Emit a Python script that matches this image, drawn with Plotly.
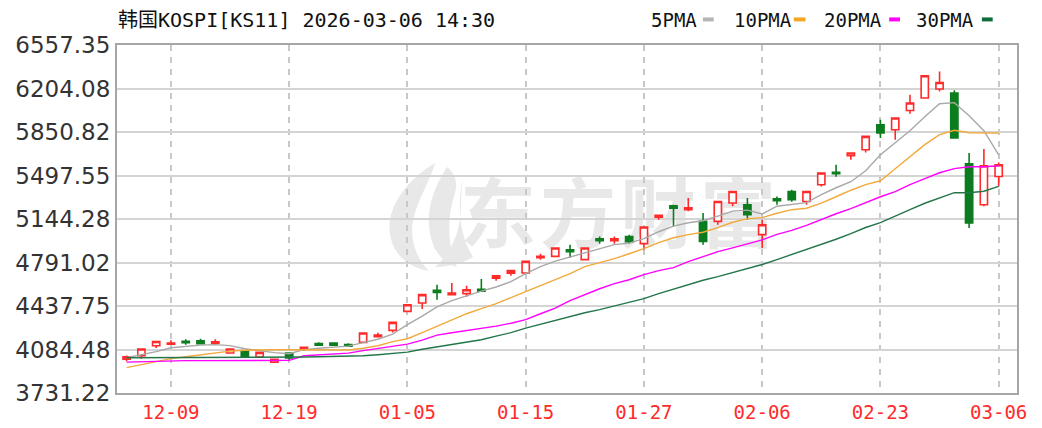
import base64
import plotly.graph_objects as go

# ---------------- data ----------------
dates = [
    "2025-12-04", "2025-12-05", "2025-12-08", "2025-12-09", "2025-12-10", "2025-12-11", "2025-12-12",
    "2025-12-15", "2025-12-16", "2025-12-17", "2025-12-18", "2025-12-19", "2025-12-22", "2025-12-23",
    "2025-12-24", "2025-12-26", "2025-12-29", "2025-12-30", "2026-01-02", "2026-01-05", "2026-01-06",
    "2026-01-07", "2026-01-08", "2026-01-09", "2026-01-12", "2026-01-13", "2026-01-14", "2026-01-15",
    "2026-01-16", "2026-01-19", "2026-01-20", "2026-01-21", "2026-01-22", "2026-01-23", "2026-01-26",
    "2026-01-27", "2026-01-28", "2026-01-29", "2026-01-30", "2026-02-02", "2026-02-03", "2026-02-04",
    "2026-02-05", "2026-02-06", "2026-02-09", "2026-02-10", "2026-02-11", "2026-02-12", "2026-02-13",
    "2026-02-19", "2026-02-20", "2026-02-23", "2026-02-24", "2026-02-25", "2026-02-26", "2026-02-27",
    "2026-03-03", "2026-03-04", "2026-03-05", "2026-03-06",
]

opens = [4005, 4034, 4115, 4128, 4152, 4156, 4136, 4056, 4069, 4024,
         3982, 4056, 4091, 4132, 4136, 4124, 4142, 4189, 4240, 4394,
         4462, 4565, 4530, 4538, 4574, 4664, 4704, 4706, 4830, 4841,
         4895, 4814, 4984, 4968, 5001, 4944, 5159, 5252, 5220, 5125,
         5125, 5274, 5260, 5017, 5309, 5368, 5287, 5423, 5524, 5658,
         5707, 5910, 5869, 6026, 6127, 6200, 6167, 5593, 5260, 5490]
highs = [4035, 4092, 4152, 4160, 4168, 4172, 4168, 4092, 4072, 4063,
         4008, 4058, 4105, 4144, 4140, 4136, 4222, 4221, 4308, 4451,
         4533, 4611, 4625, 4603, 4657, 4686, 4727, 4803, 4863, 4912,
         4936, 4912, 5003, 5003, 5017, 5082, 5177, 5260, 5315, 5193,
         5290, 5371, 5315, 5139, 5328, 5382, 5371, 5521, 5585, 5682,
         5818, 5951, 5967, 6154, 6311, 6343, 6189, 5680, 5713, 5604]
lows = [3990, 4010, 4096, 4126, 4124, 4130, 4134, 4050, 4020, 4020,
        3978, 4002, 4075, 4118, 4117, 4110, 4138, 4187, 4223, 4390,
        4413, 4489, 4528, 4513, 4555, 4643, 4684, 4700, 4814, 4836,
        4828, 4810, 4944, 4944, 4944, 4895, 5139, 5084, 5208, 4936,
        5098, 5247, 5139, 4909, 5260, 5285, 5260, 5409, 5488, 5626,
        5685, 5802, 5788, 5999, 6122, 6180, 5798, 5071, 5247, 5409]
closes = [4025, 4089, 4150, 4137, 4140, 4132, 4148, 4089, 4024, 4061,
          4005, 4016, 4103, 4120, 4120, 4112, 4219, 4201, 4305, 4448,
          4530, 4548, 4542, 4570, 4558, 4684, 4725, 4800, 4842, 4909,
          4879, 4909, 4968, 4984, 4960, 5079, 5175, 5232, 5236, 4962,
          5287, 5368, 5179, 5098, 5293, 5301, 5368, 5518, 5512, 5680,
          5815, 5843, 5964, 6086, 6308, 6253, 5802, 5112, 5577, 5585]

ma5 = [4018, 4042, 4067, 4099, 4112, 4120, 4124, 4116, 4091, 4075,
       4059, 4050, 4083, 4095, 4103, 4112, 4140, 4168, 4209, 4286,
       4355, 4430, 4481, 4522, 4558, 4592, 4635, 4700, 4757, 4802,
       4834, 4867, 4903, 4936, 4948, 4985, 5041, 5086, 5114, 5130,
       5168, 5208, 5216, 5185, 5248, 5262, 5277, 5342, 5398, 5447,
       5536, 5666, 5764, 5861, 5975, 6080, 6089, 5983, 5861, 5666]
ma10 = [3937, 3961, 3986, 4010, 4026, 4042, 4059, 4071, 4079, 4083,
        4083, 4083, 4083, 4083, 4083, 4080, 4095, 4115, 4148, 4172,
        4221, 4274, 4327, 4375, 4416, 4457, 4505, 4554, 4603, 4655,
        4700, 4757, 4789, 4822, 4862, 4903, 4952, 4992, 5017, 5037,
        5074, 5118, 5147, 5155, 5191, 5220, 5232, 5273, 5325, 5378,
        5423, 5455, 5553, 5650, 5748, 5829, 5865, 5845, 5843, 5843]
ma20 = [3982, 3986, 3990, 3992, 3994, 3994, 3994, 3994, 3994, 3994,
        3994, 3996, 4034, 4042, 4046, 4055, 4075, 4091, 4107, 4128,
        4160, 4201, 4221, 4237, 4254, 4274, 4298, 4327, 4375, 4420,
        4481, 4530, 4578, 4619, 4651, 4692, 4725, 4749, 4798, 4838,
        4879, 4910, 4940, 4975, 5020, 5052, 5093, 5143, 5187, 5228,
        5277, 5325, 5366, 5423, 5472, 5520, 5553, 5569, 5569, 5577]
ma30 = [4018, 4018, 4020, 4020, 4021, 4021, 4023, 4023, 4023, 4023,
        4023, 4023, 4023, 4025, 4026, 4028, 4034, 4042, 4050, 4063,
        4087, 4107, 4124, 4144, 4164, 4193, 4221, 4258, 4290, 4323,
        4351, 4383, 4408, 4436, 4465, 4497, 4538, 4574, 4615, 4647,
        4676, 4708, 4737, 4775, 4815, 4855, 4895, 4938, 4980, 5025,
        5075, 5115, 5165, 5220, 5272, 5318, 5358, 5358, 5370, 5409]

y_ticks = [3731.22, 4084.48, 4437.75, 4791.02, 5144.28, 5497.55, 5850.82, 6204.08, 6557.35]
tick_dates = ["2025-12-09", "2025-12-19", "2026-01-05", "2026-01-15", "2026-01-27",
              "2026-02-06", "2026-02-23", "2026-03-06"]

ma_names = ["5PMA", "10PMA", "20PMA", "30PMA"]
ma_colors = ["#a8a8a8", "#f2a93b", "#ff00ff", "#23764a"]
legend_colors = ["#b4b4b4", "#f5a623", "#ff00ff", "#0f6b3a"]

title_text = "韩国KOSPI[KS11] 2026-03-06 14:30"

# ---------------- figure ----------------
xs = list(range(len(dates)))
tick_pos = [dates.index(d) for d in tick_dates]
tick_text = [d[5:] for d in tick_dates]

fig = go.Figure()

for series, color, name in zip([ma5, ma10, ma20, ma30], ma_colors, ma_names):
    fig.add_trace(go.Scatter(x=xs, y=series, mode="lines", name=name,
                             line=dict(color=color, width=1.4), hoverinfo="skip"))

fig.add_trace(go.Candlestick(
    x=xs, open=opens, high=highs, low=lows, close=closes, text=dates, name="KOSPI",
    increasing=dict(line=dict(color="#ff2a2a", width=1.6), fillcolor="#ffffff"),
    decreasing=dict(line=dict(color="#0b7d1f", width=1.6), fillcolor="#0b7d1f"),
    whiskerwidth=0,
))

# watermark (drawn below traces)
svg = (
    '<svg xmlns="http://www.w3.org/2000/svg" width="900" height="348" viewBox="0 0 900 348">'
    '<g fill="#e8e8e8">'
    '<path d="M318 118 C282 140 262 175 278 204 C286 218 300 224 312 226 '
    'C296 210 290 186 300 162 C306 146 314 132 318 118 Z"/>'
    '<path d="M330 122 C312 150 306 178 318 204 C324 214 332 220 340 222 '
    'C330 200 330 172 338 148 C341 138 338 128 330 122 Z"/>'
    '<path d="M346 132 C340 160 342 190 356 212 C346 218 332 222 318 222 '
    'C336 206 344 184 344 160 C344 150 345 140 346 132 Z"/>'
    '</g>'
    '<text x="343" y="197" font-family="Noto Sans CJK SC" font-weight="bold" '
    'font-size="76" fill="#e8e8e8" letter-spacing="4">东方财富</text>'
    '</svg>'
)
fig.add_layout_image(dict(
    source="data:image/svg+xml;base64," + base64.b64encode(svg.encode("utf-8")).decode(),
    xref="paper", yref="paper", x=0, y=1, sizex=1, sizey=1,
    xanchor="left", yanchor="top", sizing="stretch", layer="below",
))

mono = "DejaVu Sans Mono, Noto Sans CJK SC, monospace"

annotations = [dict(
    text=title_text, xref="paper", yref="paper", x=-0.001, y=1.072,
    xanchor="left", yanchor="middle", showarrow=False,
    font=dict(family=mono, size=20, color="#111111"),
)]
shapes = []
legend_text_x = [0.591, 0.683, 0.783, 0.885]
legend_dash_x = [(0.651, 0.663), (0.752, 0.765), (0.858, 0.870), (0.961, 0.973)]
for name, col, tx, (d0, d1) in zip(ma_names, legend_colors, legend_text_x, legend_dash_x):
    annotations.append(dict(
        text=name, xref="paper", yref="paper", x=tx, y=1.072,
        xanchor="left", yanchor="middle", showarrow=False,
        font=dict(family=mono, size=19, color="#111111"),
    ))
    shapes.append(dict(type="line", xref="paper", yref="paper", x0=d0, x1=d1,
                       y0=1.0735, y1=1.0735, line=dict(color=col, width=4)))

# page body has an 8px default margin, so the figure is drawn 8px smaller and offset
fig.update_layout(
    width=1034, height=420,
    margin=dict(l=109, r=25, t=37, b=35, autoexpand=False),
    paper_bgcolor="#ffffff", plot_bgcolor="rgba(0,0,0,0)",
    showlegend=False,
    annotations=annotations, shapes=shapes,
    hovermode=False,
)
fig.update_xaxes(
    range=[-0.65, 60.24], rangeslider_visible=False, automargin=False,
    tickmode="array", tickvals=tick_pos, ticktext=tick_text,
    showgrid=True, gridcolor="#c8c8c8", gridwidth=1.5, griddash="6px,6px",
    ticks="", ticklabelstandoff=1,
    tickfont=dict(family=mono, size=19, color="#ff2a2a"),
    showline=True, mirror=True, linecolor="#a6a6a6", linewidth=2,
    zeroline=False,
)
fig.update_yaxes(
    range=[y_ticks[0], y_ticks[-1]], automargin=False,
    tickmode="array", tickvals=y_ticks, ticktext=[f"{v:.2f}" for v in y_ticks],
    showgrid=True, gridcolor="#d4d4d4", gridwidth=1.5,
    ticks="", ticklabelstandoff=0,
    tickfont=dict(family="DejaVu Sans", size=23, color="#333333"),
    showline=True, mirror=True, linecolor="#a6a6a6", linewidth=2,
    zeroline=False,
)

fig.write_html("out.html")
